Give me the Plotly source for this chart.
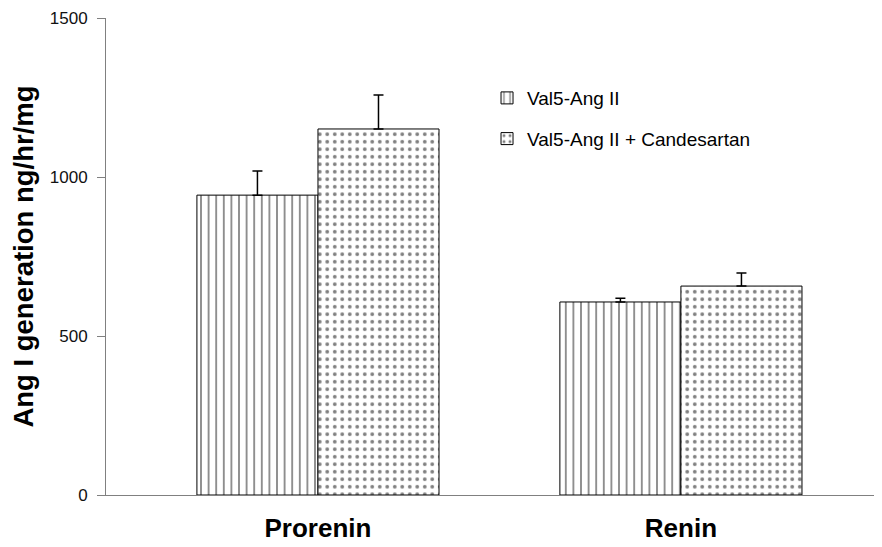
import plotly.graph_objects as go

categories = ["Prorenin", "Renin"]
val5 = [943, 607]
val5_err = [76, 12]
cand = [1151, 657]
cand_err = [107, 41]
series_names = ["Val5-Ang II", "Val5-Ang II + Candesartan"]
y_ticks = [0, 500, 1000, 1500]

fig = go.Figure()
fig.add_trace(go.Bar(
    x=categories, y=val5, name=series_names[0], legendgroup="a",
    marker=dict(color="white", line=dict(color="black", width=1),
                pattern=dict(shape="|", size=7.6, solidity=0.22, fgcolor="black", bgcolor="white")),
    error_y=dict(type="data", array=val5_err, arrayminus=[0, 0], symmetric=False,
                 color="black", thickness=1.5, width=5),
))
fig.add_trace(go.Bar(
    x=categories, y=cand, name=series_names[1], legendgroup="b",
    marker=dict(color="white", line=dict(color="black", width=1),
                pattern=dict(shape=".", size=7.5, solidity=0.2, fgcolor="black", bgcolor="white")),
    error_y=dict(type="data", array=cand_err, arrayminus=[0, 0], symmetric=False,
                 color="black", thickness=1.5, width=5),
))

# page body has an 8px margin, so the figure is 8px smaller and margins shifted
fig.update_layout(
    width=874, height=539,
    margin=dict(l=98, r=0, t=10, b=52),
    paper_bgcolor="white", plot_bgcolor="white",
    barmode="group", bargap=0.333, bargroupgap=0,
    font=dict(family="Liberation Sans, Arial, sans-serif", color="black"),
    showlegend=True,
    legend=dict(x=0.491, y=0.872, xanchor="left", yanchor="top",
                font=dict(size=19, color="black"), bgcolor="rgba(0,0,0,0)",
                tracegroupgap=13, itemwidth=30),
)
fig.update_xaxes(
    type="category", range=[-0.584, 1.554], automargin=False,
    showline=True, linecolor="#808080", linewidth=1,
    ticks="", showgrid=False, zeroline=False,
    tickfont=dict(size=26, family="Liberation Sans, Arial, sans-serif", color="black"),
    tickprefix="<b>", ticksuffix="</b>",
    ticklabelstandoff=10,
)
fig.update_yaxes(
    range=[0, 1500], tickvals=y_ticks, automargin=False,
    showline=True, linecolor="#808080", linewidth=1,
    ticks="outside", ticklen=8, tickcolor="#808080",
    showgrid=False, zeroline=False,
    tickfont=dict(size=17, color="#111"),
    ticklabelstandoff=6,
    title=dict(text="<b>Ang I generation ng/hr/mg</b>", font=dict(size=27.5, color="black"), standoff=9),
)
fig.write_html("out.html")
